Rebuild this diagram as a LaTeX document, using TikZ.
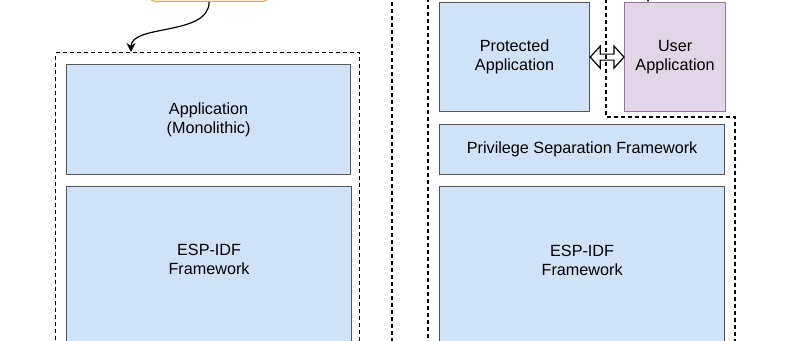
\documentclass[tikz,border=0pt]{standalone}
\usepackage{fontspec}
\setmainfont{Liberation Sans}
\usepackage{tikz}
\usetikzlibrary{arrows.meta, calc}
\usepackage{xcolor}
\definecolor{layerblue}{RGB}{207,226,248}
\definecolor{layergray}{RGB}{85,85,85}
\definecolor{userpurple}{RGB}{225,213,231}
\definecolor{userborder}{RGB}{150,115,166}
\definecolor{cfgyellow}{RGB}{255,242,204}
\definecolor{cfgborder}{RGB}{214,182,86}

\begin{document}
\begin{tikzpicture}[x=1pt, y=-1pt, font=\fontsize{16.2}{19}\selectfont,
  layer/.style={draw=layergray, fill=layerblue, line width=1.2pt, anchor=north west, align=center, inner sep=0pt},
  zone/.style={draw, line width=1.2pt, dash pattern=on 4pt off 3pt},
  flow/.style={-{Stealth[length=9pt, width=9pt, inset=3pt]}, line width=1.2pt}]
  \useasboundingbox (0,0) rectangle (800,340);
  % Left: monolithic
  \node[draw=cfgborder, fill=cfgyellow, rounded corners=4pt, line width=1.2pt, anchor=south west, minimum width=117pt, minimum height=30pt] (cfg) at (150,2) {};
  \node[zone, anchor=north west, minimum width=304pt, minimum height=320pt, inner sep=0pt] (mono) at (55,52) {};
  \coordinate (monoin) at ($(mono.north west)+(76,0)$);
  \draw[flow] (cfg.south) .. controls +(0,34) and +(0,-28) .. (monoin);
  \node[layer, minimum width=284pt, minimum height=110pt] (app) at (66,64) {Application\\(Monolithic)};
  \node[layer, minimum width=285pt, minimum height=180pt] (idfL) at (66,186) {};
  \node[align=center] (idfLtext) at ($(idfL.north)+(0,73)$) {ESP-IDF\\Framework};
  % Divider
  \draw[zone] (392,-5) -- (392,345);
  % Right: privilege separated
  \draw[zone] (428,345) -- (428,-5) -- (606,-5) -- (606,117) -- (735,117) -- (735,345);
  \node[layer, minimum width=150pt, minimum height=109pt] (prot) at (439,2) {Protected\\Application};
  \node[layer, draw=userborder, fill=userpurple, minimum width=101pt, minimum height=109pt] (user) at (624,2) {User\\Application};
  \coordinate (userin) at (648,-15);
  \draw[flow] (userin) -- (userin |- user.north);
  \draw[line width=1.2pt] (prot.east) -- ++(10,-11) -- ++(0,8) -- ($(user.west)+(-10,-3)$) -- ++(0,-8) -- (user.west) -- ++(-10,11) -- ++(0,-8) -- ($(prot.east)+(10,3)$) -- ++(0,8) -- cycle;
  \node[layer, minimum width=285pt, minimum height=50pt] (psf) at (439,124) {Privilege Separation Framework};
  \node[layer, minimum width=285pt, minimum height=180pt] (idfR) at (439,186) {};
  \node[align=center] (idfRtext) at ($(idfR.north)+(0,74)$) {ESP-IDF\\Framework};
\end{tikzpicture}
\end{document}
